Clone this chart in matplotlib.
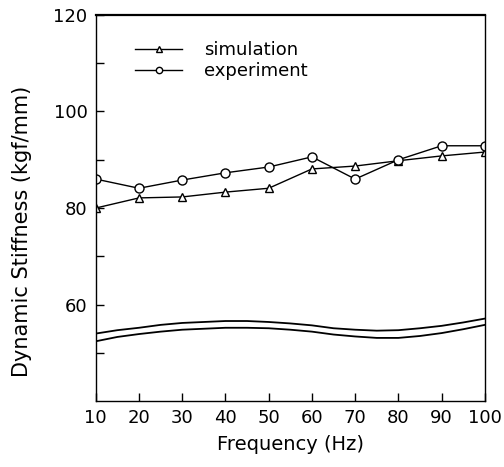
import matplotlib
matplotlib.use("Agg")
import matplotlib.pyplot as plt
import numpy as np

# measured points (Hz, kgf/mm)
freq = [10, 20, 30, 40, 50, 60, 70, 80, 90, 100]
simulation = [80.0, 82.1, 82.3, 83.3, 84.1, 88.1, 88.7, 89.8, 90.8, 91.6]
experiment = [86.0, 84.1, 85.8, 87.3, 88.5, 90.6, 86.0, 90.0, 92.9, 92.9]

# two smooth curves near the bottom, read every 5 Hz
curve_freq = [10, 15, 20, 25, 30, 35, 40, 45, 50, 55,
              60, 65, 70, 75, 80, 85, 90, 95, 100]
curve_upper = [54.0, 54.7, 55.2, 55.8, 56.2, 56.4, 56.6, 56.6, 56.4, 56.1,
               55.7, 55.1, 54.8, 54.6, 54.7, 55.1, 55.6, 56.3, 57.1]
curve_lower = [52.4, 53.3, 53.9, 54.4, 54.8, 55.0, 55.2, 55.2, 55.1, 54.8,
               54.4, 53.8, 53.4, 53.1, 53.1, 53.5, 54.1, 54.9, 55.8]

y_ticks = [50, 60, 70, 80, 90, 100, 110, 120]
y_labels = ["", "60", "", "80", "", "100", "", "120"]

fig = plt.figure(figsize=(5.04, 4.67), dpi=100)
ax = fig.add_axes([0.190, 0.141, 0.772, 0.827])

ax.plot(freq, simulation, color="black", lw=1.0, marker="^", ms=6,
        mfc="white", mec="black", mew=1.0, label="simulation")
ax.plot(freq, experiment, color="black", lw=1.0, marker="o", ms=6.5,
        mfc="white", mec="black", mew=1.0, label="experiment")
ax.plot(curve_freq, curve_upper, color="black", lw=1.3)
ax.plot(curve_freq, curve_lower, color="black", lw=1.3)

ax.set_xlim(10, 100)
ax.set_ylim(40, 120)
ax.set_xticks(freq)
ax.set_yticks(y_ticks)
ax.set_yticklabels(y_labels)
ax.tick_params(direction="in", length=6, width=1.0, labelsize=13, pad=6,
               top=False, right=False)
for side in ["left", "bottom", "right"]:
    ax.spines[side].set_linewidth(1.0)
ax.spines["top"].set_linewidth(1.6)

ax.set_xlabel("Frequency (Hz)", fontsize=14)
ax.xaxis.set_label_coords(0.5, -0.088)
ax.set_ylabel("Dynamic Stiffness (kgf/mm)", fontsize=15)
ax.yaxis.set_label_coords(-0.165, 0.44)

ax.legend(loc="upper left", bbox_to_anchor=(0.06, 0.975), frameon=False,
          fontsize=13, handlelength=2.6, handletextpad=1.2, labelspacing=0.2,
          markerscale=0.7)

fig.savefig("out.png", dpi=100)
